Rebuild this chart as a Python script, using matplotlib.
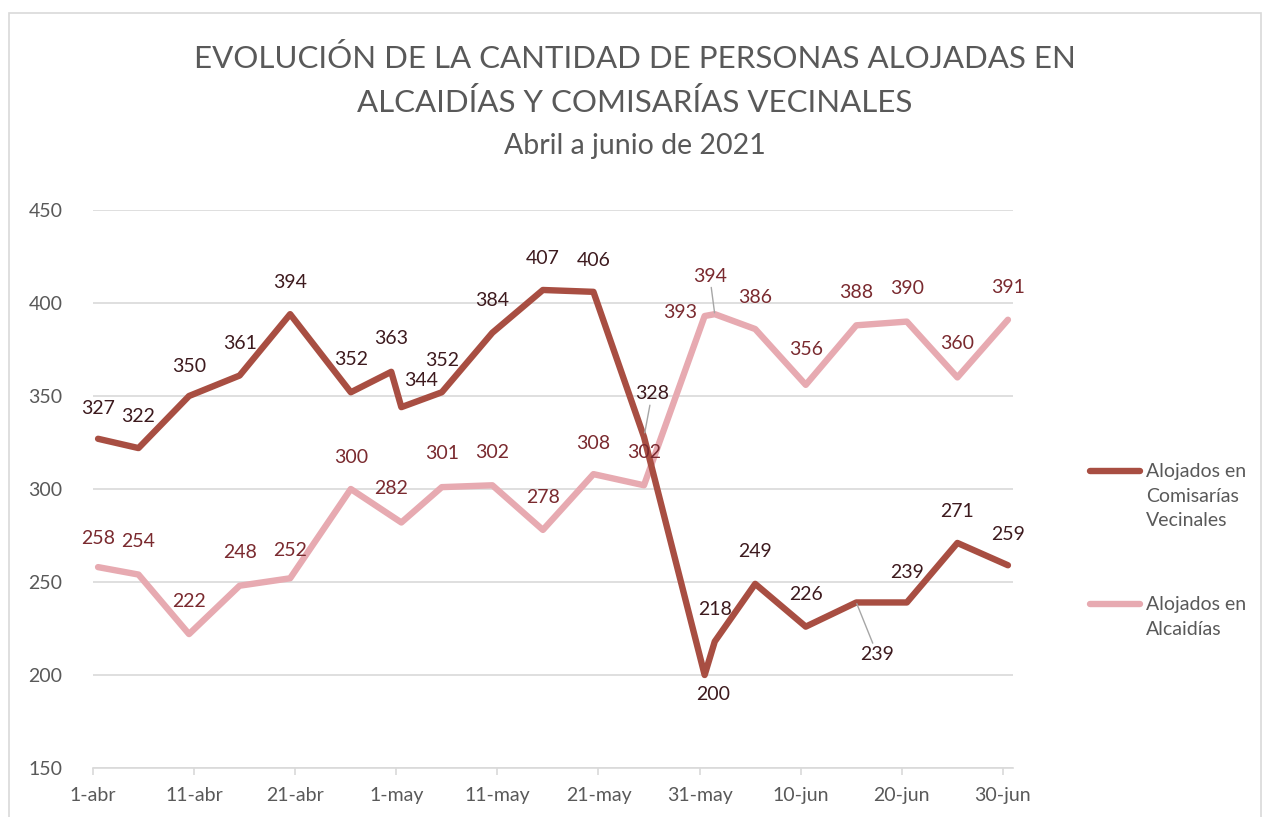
import matplotlib
matplotlib.use('Agg')
import matplotlib.pyplot as plt
import pandas as pd
from matplotlib.patches import Rectangle

plt.rcParams['font.family'] = ['Lato', 'DejaVu Sans']

# ---------------- data ----------------
dates_comisarias = ['2021-04-01', '2021-04-05', '2021-04-10', '2021-04-15', '2021-04-20',
                    '2021-04-26', '2021-04-30', '2021-05-01', '2021-05-05', '2021-05-10',
                    '2021-05-15', '2021-05-20', '2021-05-25', '2021-05-31', '2021-06-01',
                    '2021-06-05', '2021-06-10', '2021-06-15', '2021-06-20', '2021-06-25',
                    '2021-06-30']
comisarias = [327, 322, 350, 361, 394, 352, 363, 344, 352, 384, 407, 406, 328, 200, 218,
              249, 226, 239, 239, 271, 259]

dates_alcaidias = ['2021-04-01', '2021-04-05', '2021-04-10', '2021-04-15', '2021-04-20',
                   '2021-04-26', '2021-05-01', '2021-05-05', '2021-05-10', '2021-05-15',
                   '2021-05-20', '2021-05-25', '2021-05-31', '2021-06-01', '2021-06-05',
                   '2021-06-10', '2021-06-15', '2021-06-20', '2021-06-25', '2021-06-30']
alcaidias = [258, 254, 222, 248, 252, 300, 282, 301, 302, 278, 308, 302, 393, 394, 386,
             356, 388, 390, 360, 391]

tick_dates = ['2021-04-01', '2021-04-11', '2021-04-21', '2021-05-01', '2021-05-11',
              '2021-05-21', '2021-05-31', '2021-06-10', '2021-06-20', '2021-06-30']
tick_labels = ['1-abr', '11-abr', '21-abr', '1-may', '11-may', '21-may', '31-may',
               '10-jun', '20-jun', '30-jun']

series_names = ['Alojados en\nComisarías\nVecinales', 'Alojados en\nAlcaidías']

title_line1 = 'EVOLUCIÓN DE LA CANTIDAD DE PERSONAS ALOJADAS EN'
title_line2 = 'ALCAIDÍAS Y COMISARÍAS VECINALES'
subtitle = 'Abril a junio de 2021'

# ---------------- styles / label placement (pixels) ----------------
off_com = [(0, -30), (0, -32), (0, -30), (0, -32), (0, -32), (0, -33), (0, -33), (20, -27),
           (0, -32), (0, -32), (0, -31), (0, -31), (8, -43), (8, 19), (0, -32), (0, -32),
           (0, -32), (21, 52), (0, -30), (0, -31), (0, -31)]
leader_com = {12: 3, 17: 1}
off_alc = [(0, -29), (0, -33), (0, -33), (0, -33), (0, -28), (0, -32), (-10, -34), (0, -34),
           (0, -33), (0, -32), (0, -31), (0, -33), (-25, -4), (-5, -38), (0, -32), (0, -35),
           (0, -33), (0, -33), (0, -34), (0, -32)]
leader_alc = {13: 1}

C_DARK = '#A84E42'
C_PINK = '#E7AAB1'
C_LAB_DARK = '#3D1A1E'
C_LAB_PINK = '#7A2A2F'
C_TEXT = '#595959'
C_GRID = '#D9D9D9'
C_LEADER = '#A6A6A6'

start = pd.Timestamp('2021-04-01')


def to_days(ds, shift=0.5):
    return [(pd.Timestamp(d) - start).days + shift for d in ds]


x_com = to_days(dates_comisarias)
x_alc = to_days(dates_alcaidias)
x_ticks = to_days(tick_dates, 0.0)

fig = plt.figure(figsize=(12.62, 8.17), dpi=100)
ax = fig.add_axes([93 / 1262, 1 - 768 / 817, (1013 - 93) / 1262, (768 - 210) / 817])

ax.plot(x_com, comisarias, color=C_DARK, lw=4.6, solid_joinstyle='round',
        solid_capstyle='round', label=series_names[0], zorder=3)
ax.plot(x_alc, alcaidias, color=C_PINK, lw=4.6, solid_joinstyle='round',
        solid_capstyle='round', label=series_names[1], zorder=2)


def add_labels(xs, ys, offs, leaders, color):
    for i, (x, y) in enumerate(zip(xs, ys)):
        dx, dy = offs[i]
        kw = {}
        if i in leaders:
            kw['arrowprops'] = dict(arrowstyle='-', color=C_LEADER, lw=1.0,
                                    shrinkA=0, shrinkB=leaders[i])
        ax.annotate(f'{y}', xy=(x, y), xytext=(dx, -dy), textcoords='offset pixels',
                    ha='center', va='center', fontsize=14, color=color, zorder=5, **kw)


add_labels(x_com, comisarias, off_com, leader_com, C_LAB_DARK)
add_labels(x_alc, alcaidias, off_alc, leader_alc, C_LAB_PINK)

ax.set_xlim(0, 91)
ax.set_ylim(150, 450)
ax.set_yticks(range(150, 451, 50))
ax.set_xticks(x_ticks)
ax.set_xticklabels(tick_labels)
ax.grid(axis='y', color=C_GRID, lw=1.2)
ax.set_axisbelow(True)
for s in ['left', 'right', 'top']:
    ax.spines[s].set_visible(False)
ax.spines['bottom'].set_color(C_GRID)
ax.spines['bottom'].set_linewidth(1.2)
ax.tick_params(axis='x', direction='out', length=5, color=C_GRID, width=1.2,
               labelsize=14, labelcolor=C_TEXT, pad=9)
ax.tick_params(axis='y', length=0, labelsize=14, labelcolor=C_TEXT, pad=22)

fig.text(0.503, 1 - 58 / 817, title_line1, ha='center', va='center', fontsize=22.5,
         color=C_TEXT)
fig.text(0.503, 1 - 102 / 817, title_line2, ha='center', va='center', fontsize=22.5,
         color=C_TEXT)
fig.text(0.503, 1 - 146 / 817, subtitle, ha='center', va='center', fontsize=20.5,
         color=C_TEXT)

leg = fig.legend(loc='upper left', bbox_to_anchor=(1090 / 1262, 1 - 463 / 817),
                 frameon=False, fontsize=14, handlelength=2.55, handletextpad=0.35,
                 handleheight=1.1, labelspacing=3.45, borderpad=0, borderaxespad=0,
                 labelcolor=C_TEXT)
for t in leg.get_texts():
    t.set_linespacing(1.55)
# align each handle with the first line of its (multi-line) label
for col in leg._legend_handle_box.get_children():
    for item in col.get_children():
        item.align = 'top'

fig.patches.append(Rectangle((9 / 1262, -0.05), (1261 - 9) / 1262, 1.05 - 13 / 817,
                             transform=fig.transFigure, fill=False, edgecolor=C_GRID,
                             lw=1.2))

fig.savefig('out.png', dpi=100)
